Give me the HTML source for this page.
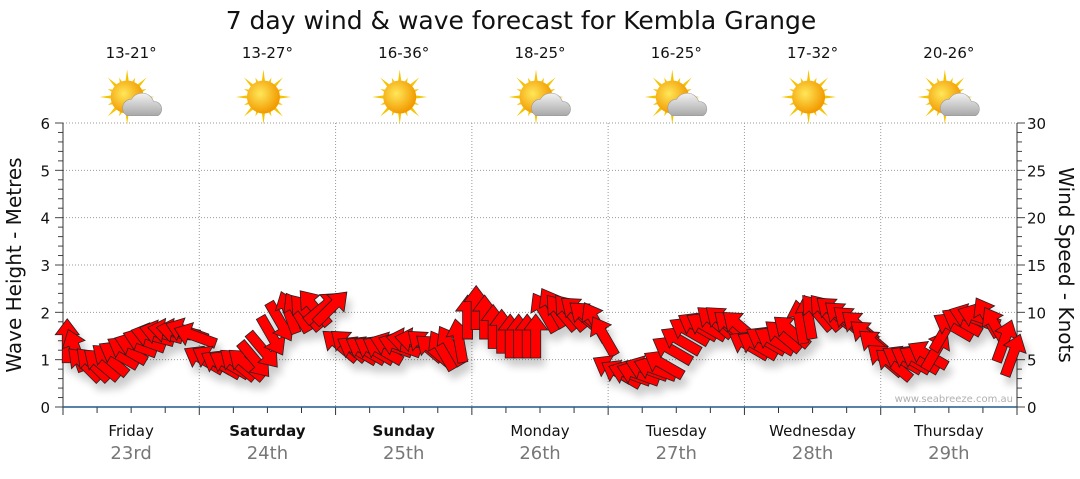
<!DOCTYPE html>
<html><head><meta charset="utf-8"><style>
body{margin:0;background:#fff;width:1080px;height:475px;overflow:hidden;font-family:"DejaVu Sans",sans-serif}
</style></head><body>
<svg id="c" width="1080" height="475" viewBox="0 0 1080 475" font-family="DejaVu Sans, sans-serif">
<defs>
<filter id="sh" x="-50%" y="-50%" width="200%" height="200%"><feGaussianBlur in="SourceAlpha" stdDeviation="4"/><feOffset dx="4" dy="8"/><feComponentTransfer><feFuncA type="linear" slope="0.2"/></feComponentTransfer><feMerge><feMergeNode/><feMergeNode in="SourceGraphic"/></feMerge></filter>
<radialGradient id="sun" cx="40%" cy="40%" r="60%"><stop offset="0" stop-color="#ffe75a"/><stop offset="1" stop-color="#f29a00"/></radialGradient>
<linearGradient id="cl" x1="0" y1="0" x2="0" y2="1"><stop offset="0" stop-color="#f2f2f2"/><stop offset="1" stop-color="#a8a8a8"/></linearGradient>
</defs>
<text x="521" y="29" text-anchor="middle" font-size="25" fill="#111">7 day wind &amp; wave forecast for Kembla Grange</text>
<g id="grid"></g><g id="axes"></g><g id="icons"></g>
<g id="arrows" filter="url(#sh)"></g>
<text x="1013" y="402" text-anchor="end" font-size="10" fill="#b0b0b0">www.seabreeze.com.au</text>
<text transform="translate(21,265) rotate(-90)" text-anchor="middle" font-size="20" fill="#111">Wave Height - Metres</text>
<text transform="translate(1059,265) rotate(90)" text-anchor="middle" font-size="20" fill="#111">Wind Speed - Knots</text>
</svg>
<script>
const days=["Friday","Saturday","Sunday","Monday","Tuesday","Wednesday","Thursday"];
const dates=["23rd","24th","25th","26th","27th","28th","29th"];
const boldDays=[false,true,true,false,false,false,false];
const temps=["13-21°","13-27°","16-36°","18-25°","16-25°","17-32°","20-26°"];
const cloudy=[true,false,false,true,true,false,true];
const waveTicks=[0,1,2,3,4,5,6];
const windTicks=[0,5,10,15,20,25,30];
const windSpeed=[7,6,4.5,4.5,4.5,5,5.5,6,6.5,7,7.5,7.8,8,8,8,7.5,
 5,5,4.5,4.5,4.5,4.5,5,6,7.5,9,10,10,10,10.5,10.5,10.5,
 6.5,6.5,6,6,6,6,6.5,6.5,7,7,6.5,6,6,6.5,7,9.5,
 10.5,9.5,8.5,8,7.5,7.5,7.5,7.5,10,10.5,10,10,10,9.5,9,7.5,
 4,3.5,3.5,3.5,4,4,4.5,6,7,8,8.5,8.5,9,9,8.5,8.5,
 6.5,6.5,7,7,7.5,8,9,9.5,10,10,10,9.5,9,8.5,7.5,6.5,
 5,4.5,5,5,5,5.5,6,8,8.5,9,9.5,9.5,9.5,8.5,7,5.5];
const windDir=[90,110,135,135,140,140,150,150,160,160,165,165,170,170,160,160,
 150,150,150,150,140,140,-50,-50,-60,-60,110,120,130,130,40,45,
 140,140,150,150,150,150,160,160,170,170,140,140,120,120,100,90,
 90,90,90,90,90,90,90,90,120,120,130,130,140,140,120,120,
 150,150,160,160,160,160,150,150,150,150,150,150,140,140,140,140,
 150,150,150,150,140,140,100,100,130,130,140,140,140,140,140,140,
 140,140,150,150,150,150,60,60,150,150,160,160,120,120,70,70];
const ns="http://www.w3.org/2000/svg";
const X0=63,X1=1017,Y0=407,Y1=123,DW=(X1-X0)/7,N=16;
const yW=v=>Y0-(Y0-Y1)*v/6, yK=v=>Y0-(Y0-Y1)*v/30, xI=i=>X0+(i+0.5)*DW/N;
function el(t,a,p){const e=document.createElementNS(ns,t);for(const k in a)e.setAttribute(k,a[k]);(p||document.getElementById('c')).appendChild(e);return e;}
const G=document.getElementById('grid'),A=document.getElementById('axes'),I=document.getElementById('icons'),R=document.getElementById('arrows');
waveTicks.forEach((v,i)=>{if(v>0){const l=el('line',{x1:X0,x2:X1,y1:yW(v),y2:yW(v),stroke:'#999','stroke-dasharray':'1 2'},G);}
 const t=el('text',{x:50,y:yW(v)+6,'text-anchor':'end','font-size':15,fill:'#111'},A);t.textContent=v;});
windTicks.forEach(v=>{const t=el('text',{x:1027,y:yK(v)+6,'font-size':15,fill:'#111'},A);t.textContent=v;});
for(let k=0;k<=30;k++){const y=Y0-(Y0-Y1)*k/30;const big=k%5==0;el('line',{x1:X0-(big?8:5),x2:X0,y1:y,y2:y,stroke:'#444'},A);el('line',{x1:X1,x2:X1+(big?8:5),y1:y,y2:y,stroke:'#444'},A);}
el('line',{x1:X0,x2:X0,y1:Y1,y2:Y0,stroke:'#333'},A);el('line',{x1:X1,x2:X1,y1:Y1,y2:Y0,stroke:'#333'},A);
for(let k=0;k<=28;k++){const x=X0+k*DW/4;el('line',{x1:x,x2:x,y1:Y0,y2:Y0+(k%4==0?8:6),stroke:'#333'},A);}
el('line',{x1:X0,x2:X1,y1:Y0,y2:Y0,stroke:'#1f5a8a','stroke-width':1.5},A);
days.forEach((d,i)=>{const cx=X0+(i+0.5)*DW;
 if(i>0){const l=el('line',{x1:X0+i*DW,x2:X0+i*DW,y1:Y1,y2:Y0,stroke:'#999','stroke-dasharray':'1 2'},G);}
 let t=el('text',{x:cx,y:436,'text-anchor':'middle','font-size':15,fill:'#111','font-weight':boldDays[i]?'bold':'normal'},A);t.textContent=d;
 t=el('text',{x:cx,y:459,'text-anchor':'middle','font-size':18,fill:'#777'},A);t.textContent=dates[i];
 t=el('text',{x:cx,y:58,'text-anchor':'middle','font-size':15,fill:'#111'},I);t.textContent=temps[i];
 const g=el('g',{transform:`translate(${cx-4},97) scale(1.1)`},I);
 for(let r=0;r<16;r++){const a=r*Math.PI/8,L=r%2?19:25;el('polygon',{points:`${Math.cos(a-0.15)*12},${Math.sin(a-0.15)*12} ${Math.cos(a)*L},${Math.sin(a)*L} ${Math.cos(a+0.15)*12},${Math.sin(a+0.15)*12}`,fill:'#f5c400'},g);}
 el('circle',{r:15,fill:'url(#sun)'},g);
 if(cloudy[i]){el('path',{d:'M0,17 a8,8 0 0 1 4,-15 a11,11 0 0 1 20,2 a7,7 0 0 1 4,13 z',fill:'url(#cl)',stroke:'#999','stroke-width':0.5},g);}
});
const L=44,H=16,HW=12,SW=5;
windSpeed.forEach((v,i)=>{const x=xI(i),y=yK(v),a=-windDir[i];
 const p=el('polygon',{points:`${L/2},0 ${L/2-H},${-HW} ${L/2-H},${-SW} ${-L/2},${-SW} ${-L/2},${SW} ${L/2-H},${SW} ${L/2-H},${HW}`,fill:'#ff0000',stroke:'#222','stroke-width':0.8,transform:`translate(${x},${y}) rotate(${a})`},R);
 
 
});
</script>
</body></html>
